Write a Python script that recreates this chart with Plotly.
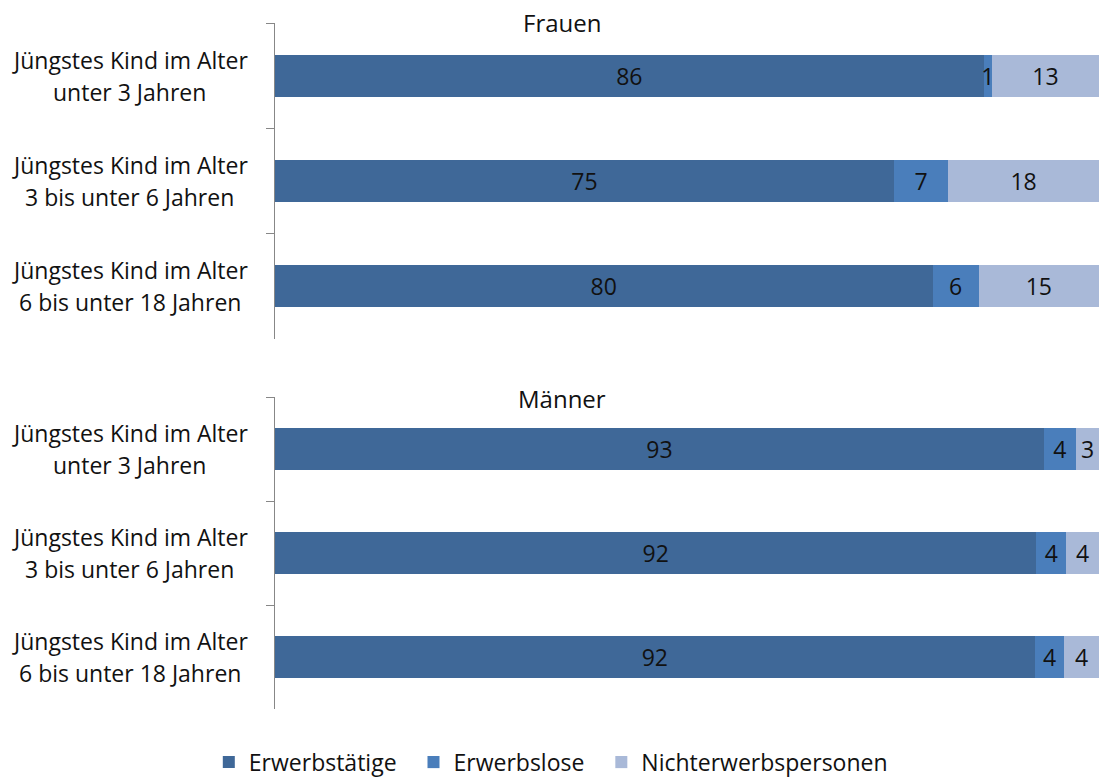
import plotly.graph_objects as go

# ---- data ----
label_prefix = "Jüngstes Kind im Alter"
categories = ["unter 3 Jahren", "3 bis unter 6 Jahren", "6 bis unter 18 Jahren"]
series_names = ["Erwerbstätige", "Erwerbslose", "Nichterwerbspersonen"]
panel_titles = ["Frauen", "Männer"]

frauen_erwerbstaetige = [86.0, 75.1, 79.8]
frauen_erwerbslose = [1.0, 6.6, 5.6]
frauen_nichterwerb = [13.0, 18.3, 14.6]

maenner_erwerbstaetige = [93.3, 92.4, 92.2]
maenner_erwerbslose = [3.9, 3.6, 3.6]
maenner_nichterwerb = [2.8, 4.0, 4.2]

colors = ["#3F6898", "#4A7EBB", "#A9B9D8"]
FONT = "Open Sans"

fig = go.Figure()

panels = [
    (panel_titles[0], [frauen_erwerbstaetige, frauen_erwerbslose, frauen_nichterwerb], "x", "y", True),
    (panel_titles[1], [maenner_erwerbstaetige, maenner_erwerbslose, maenner_nichterwerb], "x2", "y2", False),
]

for title, series, xa, ya, show in panels:
    for name, vals, col in zip(series_names, series, colors):
        fig.add_trace(go.Bar(
            x=vals, y=categories, orientation="h",
            name=name + "\u00a0\u00a0", marker=dict(color=col, line=dict(width=0)),
            width=0.4,
            texttemplate="%{x:.0f}", textposition="inside",
            insidetextanchor="middle", constraintext="none", textangle=0,
            insidetextfont=dict(family=FONT, size=23, color="#111111"),
            xaxis=xa, yaxis=ya, showlegend=show,
            hoverinfo="skip",
        ))

axis_gray = "#878787"
yaxis_common = dict(
    type="category", categoryorder="array", categoryarray=categories,
    autorange="reversed", showticklabels=False, ticks="outside",
    tickson="boundaries", ticklen=8, tickcolor=axis_gray, tickwidth=1,
    showline=True, linecolor=axis_gray, linewidth=1, showgrid=False,
    zeroline=False,
)
xaxis_common = dict(range=[0, 100], visible=False, fixedrange=True)

H = 779.0
fig.update_layout(
    width=1103, height=779,
    margin=dict(l=275, r=4, t=0, b=0, autoexpand=False),
    plot_bgcolor="white", paper_bgcolor="white",
    barmode="stack",
    font=dict(family=FONT, size=23, color="#111111"),
    xaxis=dict(xaxis_common, anchor="y", domain=[0, 1]),
    xaxis2=dict(xaxis_common, anchor="y2", domain=[0, 1]),
    yaxis=dict(yaxis_common, anchor="x", domain=[1 - 339 / H, 1 - 23 / H]),
    yaxis2=dict(yaxis_common, anchor="x2", domain=[1 - 709 / H, 1 - 397 / H]),
    legend=dict(orientation="h", x=0.342, xanchor="center", y=-0.006,
                yanchor="bottom", font=dict(family=FONT, size=23, color="#111111"),
                traceorder="normal", itemclick=False),
    showlegend=True,
)

annotations = []
# panel titles
annotations.append(dict(text=panel_titles[0], xref="paper", yref="paper", x=0.348, y=1 - 23 / H,
                        xanchor="center", yanchor="middle", showarrow=False,
                        font=dict(family=FONT, size=24, color="#111111")))
annotations.append(dict(text=panel_titles[1], xref="paper", yref="paper", x=0.348, y=1 - 398 / H,
                        xanchor="center", yanchor="middle", showarrow=False,
                        font=dict(family=FONT, size=24, color="#111111")))
# category labels (two centred lines)
for ya in ["y", "y2"]:
    for cat in categories:
        annotations.append(dict(text=label_prefix, xref="paper", yref=ya, x=-0.176, y=cat,
                                xanchor="center", yanchor="middle", yshift=16, showarrow=False,
                                font=dict(family=FONT, size=23, color="#111111")))
        annotations.append(dict(text=cat, xref="paper", yref=ya, x=-0.176, y=cat,
                                xanchor="center", yanchor="middle", yshift=-16, showarrow=False,
                                font=dict(family=FONT, size=23, color="#111111")))
fig.update_layout(annotations=annotations)

fig.write_html("out.html", config={"displayModeBar": False},
               post_script="document.body.style.margin='0';document.body.style.overflow='hidden';")
